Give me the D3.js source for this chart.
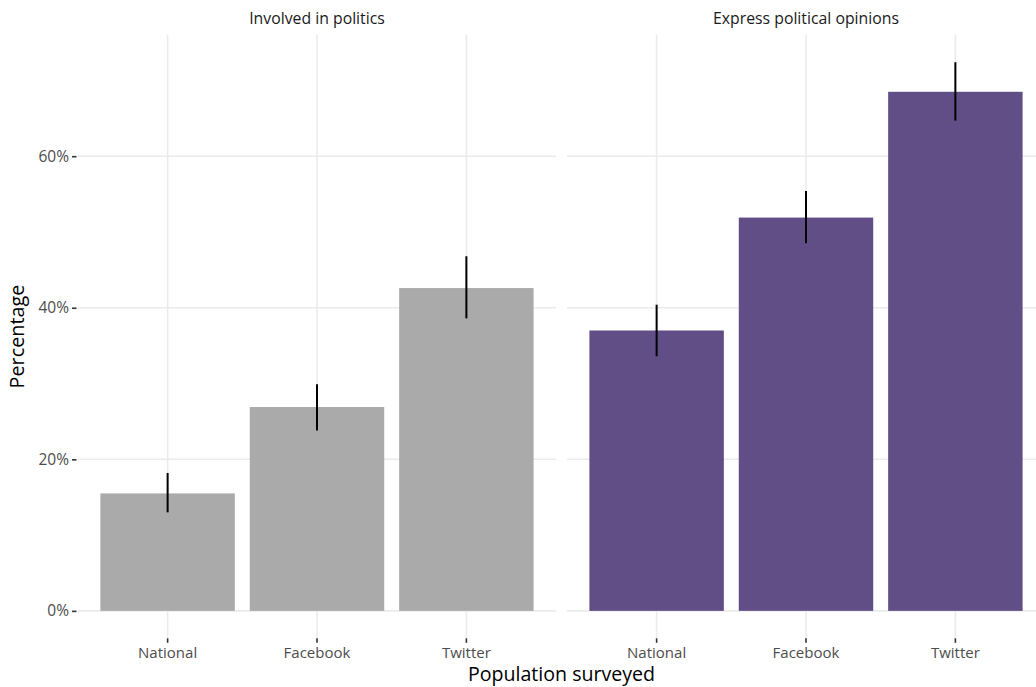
<!DOCTYPE html>
<html>
<head>
<meta charset="utf-8">
<script src="https://cdn.jsdelivr.net/npm/d3@7"></script>
<style>
  html, body { margin: 0; padding: 0; background: #fff; }
  svg { display: block; font-family: "Open Sans", Lato, sans-serif; }
</style>
</head>
<body>
<svg id="chart" width="1036" height="687"></svg>
<script>
// ---- data ----
const categories = ["National", "Facebook", "Twitter"];
const facets = ["Involved in politics", "Express political opinions"];
const involvedValues = [15.5, 26.9, 42.6];
const involvedLower  = [13.0, 23.8, 38.6];
const involvedUpper  = [18.2, 29.9, 46.8];
const expressValues  = [37.0, 51.9, 68.5];
const expressLower   = [33.6, 48.5, 64.7];
const expressUpper   = [40.4, 55.4, 72.4];
const yTicks = [0, 20, 40, 60];
const facetColors = ["#aaaaaa", "#624e86"];

const panels = [
  { title: facets[0], values: involvedValues, lower: involvedLower, upper: involvedUpper, color: facetColors[0] },
  { title: facets[1], values: expressValues,  lower: expressLower,  upper: expressUpper,  color: facetColors[1] }
];

// ---- layout ----
const svg = d3.select("#chart");
const FONT = "'Open Sans', Lato, sans-serif";
const panelTop = 34.8, panelBottom = 638.3;
const panelWidth = 478;
const panelX = [78, 567];

const allUpper = involvedUpper.concat(expressUpper);
const yMax = d3.max(allUpper), yMin = 0;
const ext = (yMax - yMin) * 0.05;
const y = d3.scaleLinear().domain([yMin - ext, yMax + ext]).range([panelBottom, panelTop]);

const gridColor = "#ebebeb";

panels.forEach((p, i) => {
  const x0 = panelX[i];
  const x = d3.scaleBand().domain(categories).range([x0, x0 + panelWidth])
    .paddingInner(0.1).paddingOuter(0.15);
  const g = svg.append("g");

  // horizontal grid
  g.selectAll("line.hgrid").data(yTicks).join("line")
    .attr("x1", x0).attr("x2", x0 + panelWidth)
    .attr("y1", d => y(d)).attr("y2", d => y(d))
    .attr("stroke", gridColor).attr("stroke-width", 1.6);
  // vertical grid
  g.selectAll("line.vgrid").data(categories).join("line")
    .attr("x1", d => x(d) + x.bandwidth() / 2).attr("x2", d => x(d) + x.bandwidth() / 2)
    .attr("y1", panelTop).attr("y2", panelBottom)
    .attr("stroke", gridColor).attr("stroke-width", 1.6);

  // bars
  g.selectAll("rect.bar").data(categories).join("rect")
    .attr("x", d => x(d)).attr("width", x.bandwidth())
    .attr("y", (d, j) => y(p.values[j]))
    .attr("height", (d, j) => y(0) - y(p.values[j]))
    .attr("fill", p.color);

  // error bars
  g.selectAll("line.err").data(categories).join("line")
    .attr("x1", d => x(d) + x.bandwidth() / 2).attr("x2", d => x(d) + x.bandwidth() / 2)
    .attr("y1", (d, j) => y(p.lower[j])).attr("y2", (d, j) => y(p.upper[j]))
    .attr("stroke", "#000").attr("stroke-width", 2);

  // strip title
  svg.append("text")
    .attr("x", x0 + panelWidth / 2).attr("y", 24)
    .attr("text-anchor", "middle")
    .attr("font-size", 15.8).attr("fill", "#1a1a1a")
    .text(p.title);

  // x axis
  const xAxis = d3.axisBottom(x).tickSize(4.5).tickPadding(5);
  const ax = svg.append("g").attr("transform", `translate(0,${panelBottom})`).call(xAxis);
  ax.select(".domain").remove();
  ax.selectAll(".tick line").attr("stroke", "#333").attr("stroke-width", 1.6);
  ax.selectAll(".tick text").attr("fill", "#4d4d4d").attr("font-size", 15)
    .attr("font-family", FONT);
});

// y axis
const yAxis = d3.axisLeft(y).tickValues(yTicks).tickFormat(d => d + "%").tickSize(4.5).tickPadding(3);
const ay = svg.append("g").attr("transform", `translate(${panelX[0] - 1.5},0)`).call(yAxis);
ay.select(".domain").remove();
ay.selectAll(".tick line").attr("stroke", "#333").attr("stroke-width", 1.6);
ay.selectAll(".tick text").attr("fill", "#4d4d4d").attr("font-size", 15.5)
  .attr("font-family", FONT);

// axis titles
svg.append("text")
  .attr("x", (panelX[0] + panelX[1] + panelWidth) / 2).attr("y", 680.5)
  .attr("text-anchor", "middle").attr("font-size", 19.6).attr("fill", "#000")
  .text("Population surveyed");

svg.append("text")
  .attr("transform", `translate(24,${(panelTop + panelBottom) / 2}) rotate(-90)`)
  .attr("text-anchor", "middle").attr("font-size", 19.8).attr("fill", "#000")
  .text("Percentage");
</script>
</body>
</html>
